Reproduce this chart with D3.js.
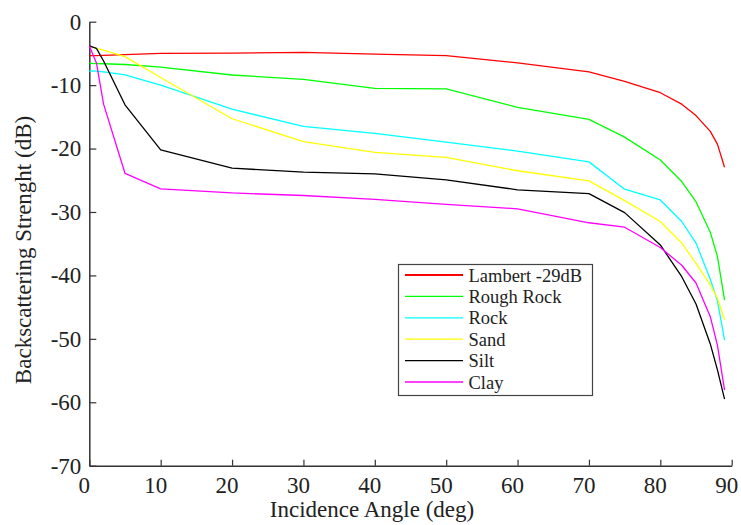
<!DOCTYPE html>
<html>
<head>
<meta charset="utf-8">
<script src="https://cdn.jsdelivr.net/npm/d3@7"></script>
<style>
  html, body { margin: 0; padding: 0; background: #fff; }
  svg { display: block; }
  svg text { font-family: "Liberation Serif", "Times New Roman", serif !important; fill: #222; }
</style>
</head>
<body>
<svg id="chart" width="741" height="525"></svg>
<script>
// Incidence angles (deg) at which each backscatter curve is sampled
const angles = [0, 1, 2, 5, 10, 20, 30, 40, 50, 60, 70, 75, 80, 83, 85, 87, 88, 89];

// Backscattering strength (dB) per seabed type
const lambert   = [-5.36, -5.34, -5.3, -5.2, -5.0, -4.95, -4.85, -5.1, -5.36, -6.5, -7.9, -9.4, -11.2, -13.0, -14.8, -17.3, -19.3, -22.95];
const roughRock = [-6.56, -6.6, -6.63, -6.75, -7.15, -8.4, -9.1, -10.5, -10.6, -13.5, -15.4, -18.2, -21.8, -25.2, -28.4, -33.2, -37.0, -43.9];
const rock      = [-7.77, -7.8, -7.9, -8.4, -10.0, -13.8, -16.5, -17.6, -19.0, -20.4, -22.1, -26.4, -28.1, -31.5, -34.9, -40.6, -44.0, -50.2];
const sand      = [-3.9, -4.2, -4.5, -5.5, -8.8, -15.3, -18.9, -20.6, -21.4, -23.5, -25.1, -28.2, -31.5, -34.9, -38.1, -41.5, -43.6, -47.0];
const silt      = [-3.8, -4.2, -6.2, -13.1, -20.2, -23.1, -23.7, -24.0, -24.95, -26.5, -27.1, -30.1, -35.2, -40.2, -44.5, -50.8, -54.9, -59.5];
const clay      = [-3.8, -6.5, -13.0, -23.9, -26.35, -27.0, -27.4, -28.0, -28.8, -29.5, -31.7, -32.4, -35.6, -38.4, -41.2, -46.5, -51.0, -58.1];

const seriesNames  = ["Lambert -29dB", "Rough Rock", "Rock", "Sand", "Silt", "Clay"];
const seriesValues = [lambert, roughRock, rock, sand, silt, clay];
const seriesColors = ["#ff0000", "#00ff00", "#00ffff", "#ffff00", "#000000", "#ff00ff"];

const xTicks = [0, 10, 20, 30, 40, 50, 60, 70, 80, 90];
const yTicks = [0, -10, -20, -30, -40, -50, -60, -70];

const SERIF = '"Liberation Serif", "Times New Roman", serif';
const svg = d3.select("#chart");

const x = d3.scaleLinear().domain([0, 90]).range([89.3, 731.7]);
const y = d3.scaleLinear().domain([-70, 0]).range([465.7, 21.7]);

// Plain hyphen-minus labels
const fmt = d => String(d);

// Axes: ticks point into the plot area
const yAxis = d3.axisLeft(y).tickValues(yTicks).tickFormat(fmt)
  .tickSizeInner(-7).tickSizeOuter(0).tickPadding(8);
const xAxis = d3.axisBottom(x).tickValues(xTicks).tickFormat(fmt)
  .tickSizeInner(-6).tickSizeOuter(0).tickPadding(10.5);

const gy = svg.append("g").attr("transform", `translate(${x(0)},0)`).call(yAxis);
const gx = svg.append("g").attr("transform", `translate(0,${y(-70)})`).call(xAxis);

[gx, gy].forEach(g => {
  g.attr("font-family", SERIF).attr("font-size", 23);
  g.select(".domain").attr("stroke", "#333").attr("stroke-width", 1.5);
  g.selectAll(".tick line").attr("stroke", "#333").attr("stroke-width", 1.2);
  g.selectAll(".tick text").attr("fill", "#222");
});
gx.selectAll(".tick text").attr("dx", -5.5);

// Axis titles
svg.append("text")
  .attr("x", 372).attr("y", 516.5)
  .attr("text-anchor", "middle")
  .attr("font-size", 23)
  .text("Incidence Angle (deg)");

svg.append("text")
  .attr("transform", "translate(31,250) rotate(-90)")
  .attr("text-anchor", "middle")
  .attr("font-size", 23)
  .text("Backscattering Strenght (dB)");

// Curves
const line = d3.line()
  .x((d, i) => x(angles[i]))
  .y(d => y(d));

svg.append("g")
  .selectAll("path")
  .data(seriesValues)
  .join("path")
  .attr("d", d => line(d))
  .attr("fill", "none")
  .attr("stroke", (d, i) => seriesColors[i])
  .attr("stroke-width", 1.3)
  .attr("stroke-linejoin", "round");

// Legend
const legend = svg.append("g").attr("transform", "translate(398.5,264.5)");
legend.append("rect")
  .attr("width", 194).attr("height", 131)
  .attr("fill", "#fff")
  .attr("stroke", "#444")
  .attr("stroke-width", 1.2);

const rows = legend.selectAll("g.row")
  .data(seriesNames)
  .join("g")
  .attr("class", "row")
  .attr("transform", (d, i) => `translate(0,${10.5 + i * 21.4})`);

rows.append("line")
  .attr("x1", 6.5).attr("x2", 64.5)
  .attr("stroke", (d, i) => seriesColors[i])
  .attr("stroke-width", (d, i) => i === 0 ? 2 : 1.3);

rows.append("text")
  .attr("x", 70).attr("y", 6.5)
  .attr("font-size", 18.5)
  .text(d => d);
</script>
</body>
</html>
